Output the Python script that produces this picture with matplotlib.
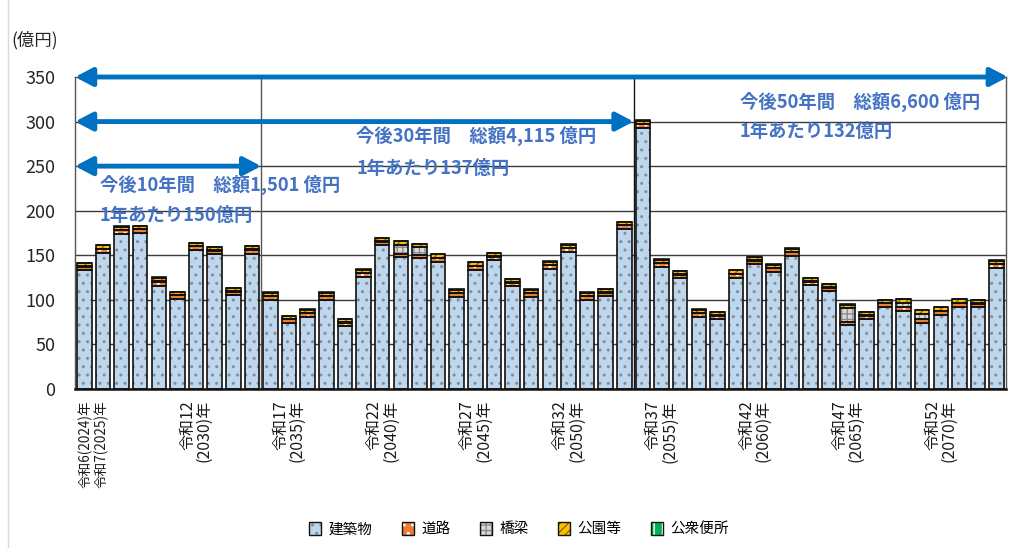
import matplotlib
matplotlib.use("Agg")
import matplotlib.pyplot as plt
from matplotlib.patches import Patch
from matplotlib.lines import Line2D
import numpy as np

plt.rcParams['font.family'] = ['Noto Sans CJK JP', 'DejaVu Sans']
plt.rcParams['hatch.linewidth'] = 1.0

# ---------------- data (億円) ----------------
years = list(range(2024, 2074))
buildings = [133, 153, 174, 175, 115.5, 101, 156, 151, 105, 152,
             100, 74, 81, 100, 70.5, 126, 161, 148, 146.5, 143,
             103.5, 134, 144.5, 115, 103.5, 135, 154, 100, 104, 179.5,
             293, 137, 124, 81, 78, 125, 140, 131.5, 149.5, 116.5,
             109.5, 71.5, 78, 92, 87.5, 73.5, 83.5, 92.5, 91.5, 136]
roads = [4, 4, 4, 4, 4, 4, 4, 4, 4, 4,
         4, 4, 4, 4, 4, 4, 4, 4, 3.5, 4,
         4, 4, 4, 4, 4, 4, 4, 4, 4, 4,
         4, 4, 4, 4, 4, 4, 4, 4, 4, 4,
         4, 4, 4, 4, 4.5, 4.5, 4, 4, 4, 4]
bridges = [0.5, 0.5, 0.5, 0.5, 2, 0.5, 0.5, 0.5, 0.5, 0.5,
           0.5, 0.5, 0.5, 0.5, 0.5, 0.5, 0.5, 10, 9, 0.5,
           0.5, 0.5, 0.5, 0.5, 0.5, 0.5, 0.5, 0.5, 0.5, 0.5,
           0.5, 0.5, 0.5, 0.5, 0.5, 0.5, 0.5, 0.5, 0.5, 0.5,
           0.5, 15, 0.5, 0.5, 4.5, 6.5, 0.5, 0.5, 0.5, 0.5]
parks = [3.5, 3.5, 3.5, 3.5, 3.5, 3.5, 3.5, 3.5, 3.5, 3.5,
         3.5, 3.5, 3.5, 3.5, 3.5, 3.5, 3.5, 3.5, 3.5, 3.5,
         3.5, 3.5, 3.5, 3.5, 3.5, 3.5, 3.5, 3.5, 3.5, 3.5,
         3.5, 3.5, 3.5, 3.5, 3.5, 3.5, 3.5, 3.5, 3.5, 3.5,
         3.5, 4, 3.5, 3.5, 4, 4, 3.5, 3.5, 3.5, 3.5]
toilets = [0.3] * 50

series_names = ['建築物', '道路', '橋梁', '公園等', '公衆便所']
series_values = [buildings, roads, bridges, parks, toilets]
face_colors = ['#BDD7EE', '#ED7D31', '#D9D9D9', '#FFC000', '#00B050']
hatch_colors = ['#8C8C8C', '#FFFFFF', '#8C8C8C', '#8F6B00', '#FFFFFF']
hatches = ['..', '..', '+++', '////', '||']

single_labels = ['令和6(2024)年', '令和7(2025)年']
single_label_pos = [0.08, 0.92]
period_labels = ['令和12\n(2030)年', '令和17\n(2035)年', '令和22\n(2040)年', '令和27\n(2045)年',
                 '令和32\n(2050)年', '令和37\n(2055)年', '令和42\n(2060)年', '令和47\n(2065)年',
                 '令和52\n(2070)年']
period_label_years = [2030, 2035, 2040, 2045, 2050, 2055, 2060, 2065, 2070]

y_ticks = [0, 50, 100, 150, 200, 250, 300, 350]

# annotations: (text line1, text line2, x, y1, y2, arrow y, arrow right end)
notes = [
    ('今後10年間　総額1,501 億円', '1年あたり150億円', 0.84, 229, 195, 250, 9.5),
    ('今後30年間　総額4,115 億円', '1年あたり137億円', 14.6, 284, 247, 300, 29.5),
    ('今後50年間　総額6,600 億円', '1年あたり132億円', 35.2, 322, 289, 350, 49.6),
]

# ---------------- figure ----------------
W, H = 1019, 548
fig = plt.figure(figsize=(W / 100, H / 100), dpi=100)
ax = fig.add_axes([75 / W, 1 - 389 / H, (1006 - 75) / W, (389 - 77) / H])

x = np.arange(len(years))
bw = 0.78
bottom = np.zeros(len(years))
for vals, fc, hc, hp in zip(series_values, face_colors, hatch_colors, hatches):
    v = np.array(vals, dtype=float)
    ax.bar(x, v, bw, bottom=bottom, color=fc, edgecolor=hc, hatch=hp, linewidth=0, zorder=2)
    ax.bar(x, v, bw, bottom=bottom, fill=False, edgecolor='#111111', linewidth=1.2, zorder=3)
    bottom += v

ax.set_xlim(-0.5, len(years) - 0.5)
ax.set_ylim(0, 350)
ax.set_yticks(y_ticks)
ax.tick_params(axis='y', length=0, pad=14, labelsize=13, labelcolor='#262626')
ax.set_xticks([])
for yv in y_ticks[1:-1]:
    ax.axhline(yv, color='#3A3A3A', lw=1.0, zorder=1)
ax.axvline(9.5, color='#555555', lw=1.0, zorder=1)
ax.axvline(29.5, color='#111111', lw=1.0, zorder=1)
for s in ['left', 'right', 'top']:
    ax.spines[s].set_color('#555555')
    ax.spines[s].set_linewidth(1.0)
ax.spines['bottom'].set_color('#111111')
ax.spines['bottom'].set_linewidth(1.8)

# arrows and texts
blue = '#0070C0'
tcol = '#4472C4'
for l1, l2, tx, y1, y2, ay, xr in notes:
    ax.annotate('', xy=(xr, ay), xytext=(-0.5, ay),
                arrowprops=dict(arrowstyle='<|-|>,head_length=1.05,head_width=0.55',
                                lw=3.5, color=blue, shrinkA=0, shrinkB=0),
                annotation_clip=False, zorder=5)
    ax.text(tx, y1, l1, color=tcol, fontsize=13.2, fontweight='bold', va='center', ha='left', zorder=6)
    ax.text(tx, y2, l2, color=tcol, fontsize=13.2, fontweight='bold', va='center', ha='left', zorder=6)

# x labels
trans = ax.get_xaxis_transform()
for lab, pos in zip(single_labels, single_label_pos):
    ax.text(pos, -0.035, lab, transform=trans, rotation=90, ha='center', va='top',
            fontsize=9.8, color='#1A1A1A')
for lab, yr in zip(period_labels, period_label_years):
    ax.text(years.index(yr), -0.035, lab, transform=trans, rotation=90, ha='center', va='top',
            multialignment='right', fontsize=11.5, color='#1A1A1A', linespacing=0.95)

fig.text(11 / W, 1 - 40 / H, '(億円)', fontsize=12.5, va='center', ha='left', color='#262626')

# legend
handles = []
for fc, hc, hp in zip(face_colors, hatch_colors, hatches):
    handles.append((Patch(facecolor=fc, edgecolor=hc, hatch=hp, linewidth=0),
                    Patch(fill=False, edgecolor='#111111', linewidth=1.0)))
fig.legend(handles, series_names, loc='center', bbox_to_anchor=(519 / W, 1 - 529 / H),
           ncol=5, frameon=False, fontsize=10.5, handlelength=0.85, handleheight=1.0,
           handletextpad=0.5, columnspacing=2.0)

# left page border
fig.add_artist(Line2D([8 / W, 8 / W], [0, 1], color='#D9D9D9', lw=1.0, transform=fig.transFigure))

fig.savefig('out.png', dpi=100)
